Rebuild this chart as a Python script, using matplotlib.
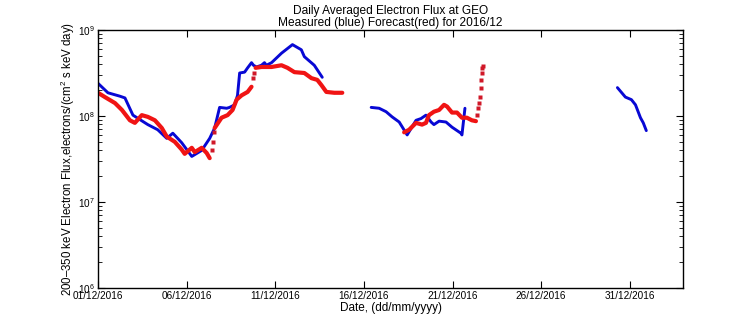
import datetime as dt
import numpy as np
import matplotlib
matplotlib.use("Agg")
import matplotlib.pyplot as plt
from matplotlib.ticker import LogLocator, LogFormatterMathtext, FixedLocator, NullLocator

plt.rcParams['font.family'] = ['Liberation Sans', 'DejaVu Sans']
plt.rcParams['mathtext.fontset'] = 'custom'
plt.rcParams['mathtext.rm'] = 'Liberation Sans'
plt.rcParams['mathtext.it'] = 'Liberation Sans:italic'

START = dt.datetime(2016, 12, 1)

# days since 01/12/2016 and log10(flux)
blue1_day = [0.0, 0.56, 1.24, 1.52, 1.97, 2.81, 3.37, 3.88, 4.22, 4.72, 5.29, 5.85,
             6.30, 6.58, 6.86, 7.26, 7.42, 7.71, 7.87, 7.99, 8.27, 8.44, 8.66, 8.77,
             8.94, 9.22, 9.39, 9.50, 9.79, 10.35, 10.97, 11.47, 11.64, 12.20, 12.65]
blue1_log = [8.38, 8.27, 8.23, 8.21, 8.01, 7.90, 7.84, 7.74, 7.80, 7.69, 7.53, 7.60,
             7.74, 7.86, 8.10, 8.09, 8.10, 8.13, 8.24, 8.50, 8.51, 8.56, 8.62, 8.59,
             8.57, 8.59, 8.62, 8.59, 8.62, 8.73, 8.83, 8.77, 8.69, 8.59, 8.45]

blue2_day = [15.41, 15.86, 16.25, 16.59, 16.99, 17.44, 17.94, 18.22, 18.50, 18.79,
             18.95, 19.24, 19.63, 19.97, 20.47, 20.53, 20.70]
blue2_log = [8.10, 8.09, 8.05, 7.99, 7.93, 7.78, 7.95, 7.97, 8.01, 7.93,
             7.90, 7.94, 7.93, 7.87, 7.80, 7.78, 8.09]

blue3_day = [29.30, 29.75, 30.09, 30.32, 30.60, 30.76, 30.93]
blue3_log = [8.33, 8.22, 8.19, 8.13, 7.98, 7.92, 7.83]

red1a_day = [0.0, 0.39, 0.96, 1.35, 1.80, 2.08, 2.47, 2.81, 3.21, 3.60, 3.88, 4.33,
             4.72, 4.89, 5.29, 5.46, 5.85, 6.13, 6.30]
red1a_log = [8.27, 8.22, 8.15, 8.07, 7.95, 7.92, 8.01, 7.99, 7.95, 7.86, 7.76, 7.70,
             7.61, 7.56, 7.63, 7.58, 7.63, 7.57, 7.51]
red1b_day = [6.58, 6.97, 7.31, 7.59, 7.82, 8.10, 8.44, 8.66]
red1b_log = [7.86, 7.98, 8.01, 8.07, 8.19, 8.24, 8.28, 8.34]
red1c_day = [8.89, 9.22, 9.79, 10.35, 10.69, 11.08, 11.64, 12.04, 12.37, 12.60,
             12.88, 13.33, 13.78]
red1c_log = [8.56, 8.57, 8.57, 8.59, 8.56, 8.51, 8.50, 8.44, 8.42, 8.36,
             8.28, 8.27, 8.27]
red2_day = [17.27, 17.55, 17.94, 18.28, 18.50, 18.67, 18.95, 19.24, 19.52, 19.69,
            19.97, 20.25, 20.53, 20.81, 21.09, 21.32]
red2_log = [7.81, 7.84, 7.92, 7.90, 7.92, 8.01, 8.05, 8.07, 8.13, 8.11,
            8.04, 8.04, 7.98, 7.98, 7.95, 7.94]

# sparse forecast points during the jumps
jump_day = [6.41, 6.47, 6.53, 8.72, 8.78, 21.37, 21.43, 21.48, 21.54, 21.60,
            21.60, 21.65, 21.68, 21.71]
jump_log = [7.60, 7.70, 7.81, 8.44, 8.50, 8.01, 8.09, 8.15, 8.22, 8.33,
            8.42, 8.50, 8.56, 8.58]

tick_days = [0, 5, 10, 15, 20, 25, 30]
tick_labels = [(START + dt.timedelta(days=d)).strftime("%d/%m/%Y") for d in tick_days]

BLUE = '#0808d4'
RED = '#f01414'

fig = plt.figure(figsize=(7.56, 3.24), dpi=100)
ax = fig.add_axes([98 / 756, 36 / 324, 585 / 756, 258 / 324])

for d, v in [(blue1_day, blue1_log), (blue2_day, blue2_log), (blue3_day, blue3_log)]:
    ax.plot(d, 10 ** np.array(v), color=BLUE, lw=2.1, solid_capstyle='round',
            solid_joinstyle='round')
for d, v in [(red1a_day, red1a_log), (red1b_day, red1b_log),
             (red1c_day, red1c_log), (red2_day, red2_log)]:
    ax.plot(d, 10 ** np.array(v), color=RED, lw=3.0, solid_capstyle='round',
            solid_joinstyle='round')
ax.plot(jump_day, 10 ** np.array(jump_log), ls='none', marker='s', ms=2.3,
        color='#d01828', mec='none')

ax.set_yscale('log')
ax.set_ylim(1e6, 1e9)
ax.set_xlim(0, 33)
ax.yaxis.set_major_locator(LogLocator(base=10, numticks=10))
ax.yaxis.set_minor_locator(LogLocator(base=10, subs=np.arange(2, 10), numticks=10))
ax.yaxis.set_major_formatter(LogFormatterMathtext())
ax.xaxis.set_major_locator(FixedLocator(tick_days))
ax.xaxis.set_minor_locator(NullLocator())
ax.set_xticklabels(tick_labels)

ax.tick_params(which='both', direction='in', top=True, right=True, labelsize=7.2, pad=2)
ax.tick_params(which='major', length=5, width=0.8)
ax.tick_params(which='minor', length=3, width=0.6)
for s in ax.spines.values():
    s.set_linewidth(1.0)

ax.set_xlabel("Date, (dd/mm/yyyy)", fontsize=8.5, labelpad=1)
ax.set_ylabel("200–350 keV Electron Flux,electrons/(cm$^2$ s keV day)", fontsize=8.3, labelpad=1)
ax.set_title("Daily Averaged Electron Flux at GEO\nMeasured (blue) Forecast(red) for 2016/12",
             fontsize=8.6, linespacing=1.0, pad=3)

fig.savefig("out.png", dpi=100)
